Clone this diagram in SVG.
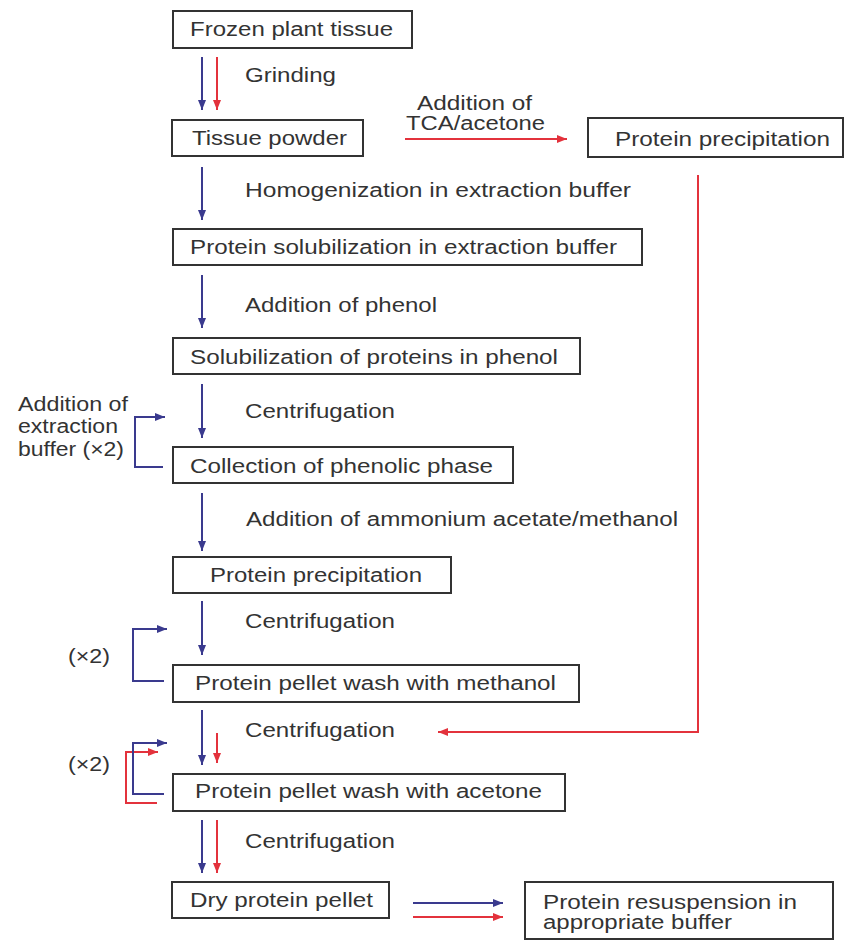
<svg xmlns="http://www.w3.org/2000/svg" width="848" height="940" viewBox="0 0 848 940">
<defs>
<style>
.box{fill:#fff;stroke:#333;stroke-width:2}
.t{font-family:"Liberation Sans",Arial,sans-serif;font-size:20px;fill:#333}
.b{fill:none;stroke:#3a3a8e;stroke-width:2}
.r{fill:none;stroke:#e3323c;stroke-width:2}
</style>
<marker id="ab" viewBox="0 0 10 8" refX="10" refY="4" markerWidth="10" markerHeight="8" markerUnits="userSpaceOnUse" orient="auto"><path d="M0,0 L10,4 L0,8 z" fill="#3a3a8e"/></marker>
<marker id="ar" viewBox="0 0 10 8" refX="10" refY="4" markerWidth="10" markerHeight="8" markerUnits="userSpaceOnUse" orient="auto"><path d="M0,0 L10,4 L0,8 z" fill="#e3323c"/></marker>
</defs>
<rect width="848" height="940" fill="#fff"/>

<g id="n1"><rect class="box" x="173" y="11" width="239" height="37"/><text class="t" x="190" y="36" textLength="203" lengthAdjust="spacingAndGlyphs">Frozen plant tissue</text></g>
<g id="n2"><rect class="box" x="172" y="120" width="191" height="36"/><text class="t" x="192" y="145" textLength="155" lengthAdjust="spacingAndGlyphs">Tissue powder</text></g>
<g id="n3"><rect class="box" x="588" y="118" width="255" height="39"/><text class="t" x="615" y="146" textLength="215" lengthAdjust="spacingAndGlyphs">Protein precipitation</text></g>
<g id="n4"><rect class="box" x="173" y="229" width="469" height="36"/><text class="t" x="190" y="254" textLength="427" lengthAdjust="spacingAndGlyphs">Protein solubilization in extraction buffer</text></g>
<g id="n5"><rect class="box" x="173" y="338" width="407" height="36"/><text class="t" x="190" y="364" textLength="368" lengthAdjust="spacingAndGlyphs">Solubilization of proteins in phenol</text></g>
<g id="n6"><rect class="box" x="173" y="447" width="340" height="36"/><text class="t" x="190" y="473" textLength="303" lengthAdjust="spacingAndGlyphs">Collection of phenolic phase</text></g>
<g id="n7"><rect class="box" x="173" y="557" width="278" height="36"/><text class="t" x="210" y="582" textLength="212" lengthAdjust="spacingAndGlyphs">Protein precipitation</text></g>
<g id="n8"><rect class="box" x="173" y="665" width="406" height="37"/><text class="t" x="195" y="690" textLength="361" lengthAdjust="spacingAndGlyphs">Protein pellet wash with methanol</text></g>
<g id="n9"><rect class="box" x="173" y="774" width="392" height="37"/><text class="t" x="195" y="798" textLength="347" lengthAdjust="spacingAndGlyphs">Protein pellet wash with acetone</text></g>
<g id="n10"><rect class="box" x="172" y="882" width="217" height="36"/><text class="t" x="190" y="907" textLength="183" lengthAdjust="spacingAndGlyphs">Dry protein pellet</text></g>
<g id="n11"><rect class="box" x="525" y="882" width="308" height="57"/><text class="t" x="543" y="909" textLength="254" lengthAdjust="spacingAndGlyphs">Protein resuspension in</text><text class="t" x="543" y="929" textLength="189" lengthAdjust="spacingAndGlyphs">appropriate buffer</text></g>

<g id="labels">
<text class="t" x="245" y="82" textLength="91" lengthAdjust="spacingAndGlyphs">Grinding</text>
<text class="t" x="417" y="110" textLength="115" lengthAdjust="spacingAndGlyphs">Addition of</text>
<text class="t" x="406" y="130" textLength="139" lengthAdjust="spacingAndGlyphs">TCA/acetone</text>
<text class="t" x="245" y="197" textLength="386" lengthAdjust="spacingAndGlyphs">Homogenization in extraction buffer</text>
<text class="t" x="245" y="312" textLength="192" lengthAdjust="spacingAndGlyphs">Addition of phenol</text>
<text class="t" x="245" y="418" textLength="150" lengthAdjust="spacingAndGlyphs">Centrifugation</text>
<text class="t" x="18" y="411" textLength="110" lengthAdjust="spacingAndGlyphs">Addition of</text>
<text class="t" x="18" y="433" textLength="100" lengthAdjust="spacingAndGlyphs">extraction</text>
<text class="t" x="18" y="456" textLength="106" lengthAdjust="spacingAndGlyphs">buffer (×2)</text>
<text class="t" x="246" y="526" textLength="432" lengthAdjust="spacingAndGlyphs">Addition of ammonium acetate/methanol</text>
<text class="t" x="245" y="628" textLength="150" lengthAdjust="spacingAndGlyphs">Centrifugation</text>
<text class="t" x="68" y="663" textLength="42" lengthAdjust="spacingAndGlyphs">(×2)</text>
<text class="t" x="245" y="737" textLength="150" lengthAdjust="spacingAndGlyphs">Centrifugation</text>
<text class="t" x="68" y="771" textLength="42" lengthAdjust="spacingAndGlyphs">(×2)</text>
<text class="t" x="245" y="848" textLength="150" lengthAdjust="spacingAndGlyphs">Centrifugation</text>
</g>

<g id="connectors">
<line class="b" x1="202" y1="57" x2="202" y2="110" marker-end="url(#ab)"/>
<line class="r" x1="217" y1="57" x2="217" y2="110" marker-end="url(#ar)"/>
<line class="r" x1="405" y1="139" x2="567" y2="139" marker-end="url(#ar)"/>
<line class="b" x1="202" y1="167" x2="202" y2="220" marker-end="url(#ab)"/>
<polyline class="r" points="698,175 698,732 438,732" marker-end="url(#ar)"/>
<line class="b" x1="202" y1="275" x2="202" y2="328" marker-end="url(#ab)"/>
<line class="b" x1="202" y1="384" x2="202" y2="438" marker-end="url(#ab)"/>
<polyline class="b" points="163,467 135,467 135,417 165,417" marker-end="url(#ab)"/>
<line class="b" x1="202" y1="493" x2="202" y2="551" marker-end="url(#ab)"/>
<line class="b" x1="202" y1="601" x2="202" y2="655" marker-end="url(#ab)"/>
<polyline class="b" points="164,681 133,681 133,629 167,629" marker-end="url(#ab)"/>
<line class="b" x1="202" y1="710" x2="202" y2="765" marker-end="url(#ab)"/>
<line class="r" x1="217" y1="733" x2="217" y2="763" marker-end="url(#ar)"/>
<polyline class="r" points="157,803 126,803 126,752 158,752" marker-end="url(#ar)"/>
<polyline class="b" points="164,794 133,794 133,743 167,743" marker-end="url(#ab)"/>
<line class="b" x1="202" y1="820" x2="202" y2="873" marker-end="url(#ab)"/>
<line class="r" x1="217" y1="820" x2="217" y2="873" marker-end="url(#ar)"/>
<line class="b" x1="413" y1="903" x2="503" y2="903" marker-end="url(#ab)"/>
<line class="r" x1="413" y1="917" x2="503" y2="917" marker-end="url(#ar)"/>
</g>
</svg>
